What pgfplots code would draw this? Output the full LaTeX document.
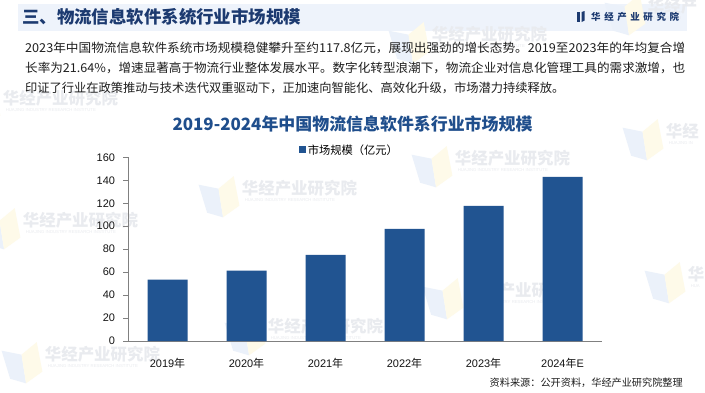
\documentclass[border=0pt]{standalone}
\usepackage{fontspec}
\setmainfont{Liberation Sans}
\newfontfamily\cjk{Noto Sans CJK SC}
\usepackage{graphicx}
\usepackage{pgfplots}
\pgfplotsset{compat=1.18}
\usetikzlibrary{calc}
\pgfdeclarelayer{background}
\pgfsetlayers{background,main}
\definecolor{barblue}{RGB}{33,84,145}
\definecolor{headbg}{RGB}{238,243,251}
\definecolor{headtxt}{RGB}{28,58,112}
\definecolor{titleblue}{RGB}{31,78,140}
\definecolor{wm}{RGB}{233,235,239}
\definecolor{wmblue}{RGB}{235,241,250}
\definecolor{wmyel}{RGB}{254,250,233}
% #1 = left of text (px), #2 = centre of text from top (px), #3 text, #4 subtitle
\newcommand{\wmarkx}[4]{%
  \begin{scope}[shift={(#1,392-#2)},rotate=9]
    \fill[wmblue] (-42,12) -- (-23,5) -- (-23,-24) -- (-38,-17) -- cycle;
    \fill[wmyel] (-23,5) -- (-6,15) -- (-5,-15) -- (-23,-24) -- cycle;
    \node[anchor=west,text=wm,font=\cjk\bfseries\fontsize{16.5}{18}\selectfont,inner sep=0pt] at (0,2) {#3};
    \node[anchor=west,text=wm,font=\fontsize{4.3}{5}\selectfont,inner sep=0pt] at (1,-10) {#4};
  \end{scope}}
\newcommand{\wmark}[2]{\wmarkx{#1}{#2}{华经产业研究院}{HUAJING INDUSTRY RESEARCH INSTITUTE}}
\begin{document}
\begin{tikzpicture}[x=1bp,y=1bp]
\begin{axis}[
  x=79bp, y=1.148bp,
  xmin=-0.5, xmax=5.5, ymin=0, ymax=160,
  ytick={0,20,...,160},
  xtick={0,...,5},
  xticklabels={2019{\cjk 年},2020{\cjk 年},2021{\cjk 年},2022{\cjk 年},2023{\cjk 年},2024{\cjk 年}E},
  major x tick style={draw=none},
  extra x ticks={-0.5,0.5,...,5.5},
  extra x tick labels={},
  extra x tick style={major tick length=4bp, tick style={gray,line width=0.8pt}},
  axis x line*=bottom, axis y line*=left,
  axis line style={-, gray, line width=0.8pt},
  tick align=outside, major tick length=4.5bp,
  tick style={gray, line width=0.8pt},
  /pgf/number format/assume math mode=true,
  ticklabel style={font=\fontsize{11}{13}\selectfont, text={rgb,255:red,20;green,20;blue,20}},
  yticklabel style={xshift=-5bp},
  xticklabel style={yshift=-9bp},
  legend style={draw=none, fill=none, at={(0.36,1.04)}, anchor=west, inner sep=0pt,
    font=\cjk\fontsize{11.3}{13}\selectfont},
  clip=false,
]
\addplot[ybar, bar width=40bp, fill=barblue, draw=none,
  legend image code/.code={\fill[barblue] (0bp,-3.5bp) rectangle (7bp,3.5bp);}]
  coordinates {(0,53.4) (1,61.2) (2,75.1) (3,97.6) (4,117.8) (5,142.9)};
\addlegendentry{市场规模（亿元）}
\coordinate (O) at (axis cs:-0.5,0);
\end{axis}
\begin{scope}[shift={($(O)+(-128,-51)$)}]
\path[use as bounding box] (0,0) rectangle (705,392);
\begin{pgfonlayer}{background}
\fill[white] (0,0) rectangle (705,392);
\fill[headbg] (18,361) rectangle (687,388);
\wmark{3}{100}
\wmark{23}{222}
\wmark{45}{356}
\wmark{242}{190}
\wmark{455}{160}
\wmark{268}{328}
\wmark{466}{292}
\wmarkx{666}{133}{华经}{HUAJING IN}
\wmarkx{688}{276}{华}{HUA}
\wmark{432}{36}
\wmarkx{648}{8}{华经产}{HUAJING INDU}
\end{pgfonlayer}
% header
\node[anchor=west,text=headtxt,font=\cjk\bfseries\fontsize{17.5}{20}\selectfont,inner sep=0pt] at (22,375) {三、物流信息软件系统行业市场规模};
\fill[headtxt] (577,370) rectangle (580,380);
\fill[headtxt] (581.5,370) -- (584.5,371.5) -- (584.5,381) -- (581.5,380) -- cycle;
\node[anchor=west,text=headtxt,font=\cjk\bfseries\fontsize{9.5}{11}\selectfont,inner sep=0pt] at (591,375.5) {华\hspace{3.6bp}经\hspace{3.6bp}产\hspace{3.6bp}业\hspace{3.6bp}研\hspace{3.6bp}究\hspace{3.6bp}院};
% paragraph
\begin{scope}[every node/.style={anchor=west,inner sep=0pt,text={rgb,255:red,30;green,30;blue,30},font=\cjk\fontsize{12.3}{14}\selectfont}]
\node at (25,344) {\resizebox{660bp}{\height}{2023年中国物流信息软件系统市场规模稳健攀升至约117.8亿元，展现出强劲的增长态势。2019至2023年的年均复合增}};
\node at (25,324) {\resizebox{660bp}{\height}{长率为21.64\%，增速显著高于物流行业整体发展水平。数字化转型浪潮下，物流企业对信息化管理工具的需求激增，也}};
\node at (25,304) {印证了行业在政策推动与技术迭代双重驱动下，正加速向智能化、高效化升级，市场潜力持续释放。};
\end{scope}
% chart title
\node[text=titleblue,font=\cjk\bfseries\fontsize{17}{20}\selectfont,inner sep=0pt] at (352.5,268) {2019-2024年中国物流信息软件系行业市场规模};
% source
\node[anchor=east,inner sep=0pt,text={rgb,255:red,30;green,30;blue,30},font=\cjk\fontsize{10.2}{12}\selectfont] at (683,9) {资料来源：公开资料，华经产业研究院整理};
\end{scope}
\end{tikzpicture}
\end{document}
